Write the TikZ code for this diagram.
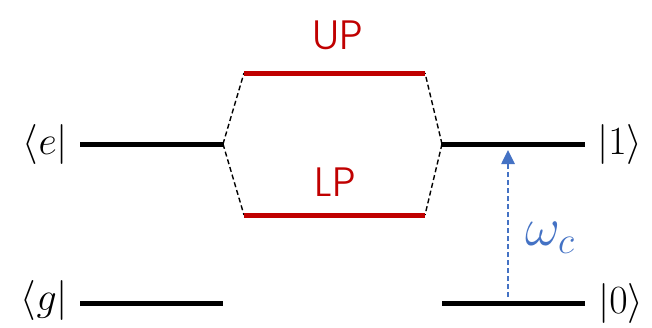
\RequirePackage{fix-cm}
\documentclass[tikz,border=0pt]{standalone}
\usepackage{fontspec}
\newfontfamily\plfont{Poppins Light}
\usetikzlibrary{arrows.meta}
\definecolor{pred}{HTML}{C00000}
\definecolor{pblue}{HTML}{4472C4}
\tikzset{
  level/.style={line width=5pt},
  polariton/.style={line width=5pt, draw=pred},
  coupling/.style={line width=1.4pt, dash pattern=on 5pt off 3pt},
  lbl/.style={inner sep=0pt, font=\fontsize{40}{42}\selectfont},
  plbl/.style={inner sep=0pt, text=pred, font=\plfont\fontsize{41}{43}\selectfont},
}
\begin{document}
\begin{tikzpicture}[x=1pt, y=-1pt]
\useasboundingbox (0,0) rectangle (652,327);
% bare exciton levels
\coordinate (ea) at (80,144);  \coordinate (eb) at (223,144);
\coordinate (ga) at (80,303);  \coordinate (gb) at (223,303);
% cavity levels
\coordinate (ca) at (442,144); \coordinate (cb) at (585,144);
\coordinate (za) at (442,303); \coordinate (zb) at (585,303);
% polariton levels
\coordinate (ua) at (244,73);  \coordinate (ub) at (425,73);
\coordinate (la) at (244,215); \coordinate (lb) at (425,215);

\draw[coupling] (eb) -- (ua);
\draw[coupling] (eb) -- (la);
\draw[coupling] (ca) -- (ub);
\draw[coupling] (ca) -- (lb);

\draw[level] (ea) -- (eb);
\draw[level] (ga) -- (gb);
\draw[level] (ca) -- (cb);
\draw[level] (za) -- (zb);
\draw[polariton] (ua) -- (ub);
\draw[polariton] (la) -- (lb);

\node[plbl] (up) at (338,35) {UP};
\node[plbl] (lp) at (335,182) {LP};

\node[lbl, anchor=east] (e) at (68,144) {$\langle e|$};
\node[lbl, anchor=east] (g) at (68,300) {$\langle g|$};
\node[lbl, anchor=west] (one) at (597,144) {$|1\rangle$};
\node[lbl, anchor=west] (zero) at (598,303) {$|0\rangle$};

% cavity photon transition
\coordinate (wb) at (508,297);
\coordinate (wt) at (508,150);
\draw[pblue, line width=2.6pt, dash pattern=on 5pt off 3pt,
      -{Triangle[length=14pt,width=13pt]}] (wb) -- (wt);
\node[inner sep=0pt, text=pblue, anchor=west, font=\fontsize{54}{56}\selectfont]
  (w) at (525,238) {$\omega_c$};
\end{tikzpicture}
\end{document}
